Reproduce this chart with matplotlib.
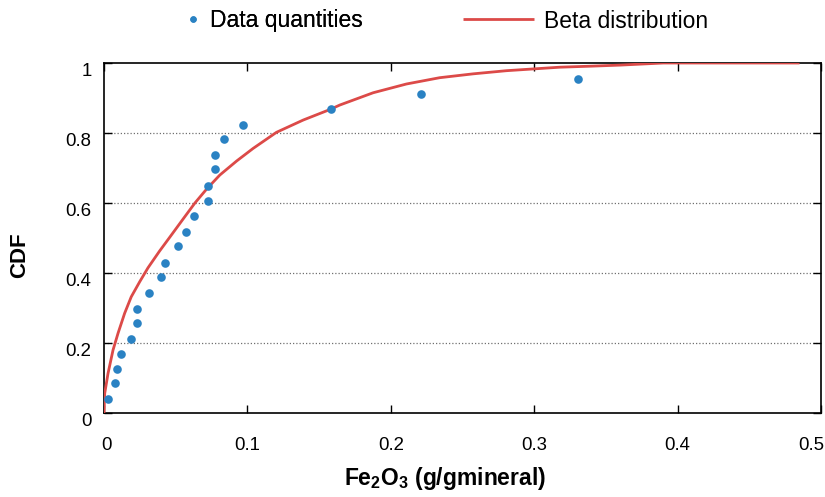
import matplotlib
matplotlib.use("Agg")
import matplotlib.pyplot as plt
from matplotlib.transforms import ScaledTranslation

plt.rcParams['font.family'] = ['Liberation Sans', 'DejaVu Sans']

# Data quantities (empirical CDF points)
data_x = [0.003, 0.0077, 0.0093, 0.0116, 0.019, 0.0228, 0.0228, 0.0314, 0.0397,
          0.0427, 0.0514, 0.0574, 0.0625, 0.0722, 0.0722, 0.0774, 0.0774, 0.0834,
          0.0969, 0.158, 0.2214, 0.3305]
data_y = [0.039, 0.085, 0.126, 0.17, 0.212, 0.258, 0.298, 0.344, 0.39,
          0.43, 0.477, 0.518, 0.564, 0.605, 0.65, 0.696, 0.736, 0.782,
          0.824, 0.869, 0.911, 0.955]

# Fitted Beta distribution CDF
beta_x = [0.0, 0.0005, 0.0028, 0.0063, 0.0098, 0.0144, 0.019, 0.0249, 0.0307,
          0.0388, 0.046, 0.0553, 0.0634, 0.0716, 0.0808, 0.0925, 0.104, 0.1203,
          0.1389, 0.1575, 0.1645, 0.1877, 0.2109, 0.2341, 0.2574, 0.2806, 0.2992,
          0.3178, 0.34, 0.36, 0.39, 0.485]
beta_y = [0.0, 0.056, 0.113, 0.18, 0.228, 0.285, 0.332, 0.375, 0.415,
          0.463, 0.503, 0.555, 0.6, 0.64, 0.68, 0.72, 0.756, 0.802,
          0.837, 0.867, 0.88, 0.915, 0.94, 0.958, 0.969, 0.978, 0.983,
          0.988, 0.991, 0.994, 1.0, 1.0]

x_ticks = [0, 0.1, 0.2, 0.3, 0.4, 0.5]
x_ticklabels = ['0', '0.1', '0.2', '0.3', '0.4', '0.5']
y_ticks = [0, 0.2, 0.4, 0.6, 0.8, 1]
y_ticklabels = ['0', '0.2', '0.4', '0.6', '0.8', '1']

fig = plt.figure(figsize=(8.25, 4.97), dpi=100)
ax = fig.add_axes([104/825, 1-413/497, (821-104)/825, (413-63)/497])

line, = ax.plot(beta_x, beta_y, color='#dc4a48', lw=2.0, zorder=3,
                solid_joinstyle='round', solid_capstyle='butt')
pts, = ax.plot(data_x, data_y, 'o', color='#2a82c3', ms=6.2, mec='none', zorder=4)

ax.set_xlim(0, 0.5)
ax.set_ylim(0, 1)
ax.set_xticks(x_ticks)
ax.set_xticklabels(x_ticklabels)
ax.set_yticks(y_ticks)
ax.set_yticklabels(y_ticklabels)

for y in [0.2, 0.4, 0.6, 0.8]:
    ax.axhline(y, color='#707070', lw=0.9, ls=(0, (1, 1.6)), zorder=1)

for sp in ax.spines.values():
    sp.set_color('black')
    sp.set_linewidth(1.2)
    sp.set_zorder(2)

ax.tick_params(axis='both', direction='in', length=6, width=1.0, color='black',
               labelsize=13.4, top=True, right=True)
ax.tick_params(axis='x', pad=17)
ax.tick_params(axis='y', pad=9)

for lab in ax.get_yticklabels():
    lab.set_transform(lab.get_transform() + ScaledTranslation(0, -7/100, fig.dpi_scale_trans))
xlabs = ax.get_xticklabels()
xlabs[0].set_transform(xlabs[0].get_transform() + ScaledTranslation(3/100, 0, fig.dpi_scale_trans))
xlabs[-1].set_transform(xlabs[-1].get_transform() + ScaledTranslation(-10/100, 0, fig.dpi_scale_trans))

ax.set_xlabel('Fe$_\\mathregular{2}$O$_\\mathregular{3}$ (g/gmineral)', fontsize=16.5,
              fontweight='bold')
ax.xaxis.set_label_coords((445-104)/717, -0.148)
ax.set_ylabel('CDF', fontsize=16, fontweight='bold')
ax.yaxis.set_label_coords((30-104)/717, (413-255)/350)

leg1 = fig.legend([pts], ['Data quantities'], loc='center left',
                  bbox_to_anchor=(182/825, 1-21/497), frameon=False, fontsize=16.5,
                  handlelength=1.0, handletextpad=0.22, borderpad=0,
                  borderaxespad=0, markerscale=0.75)
leg2 = fig.legend([line], ['Beta distribution'], loc='center left',
                  bbox_to_anchor=(463/825, 1-21/497), frameon=False, fontsize=16.5,
                  handlelength=3.1, handletextpad=0.43, borderpad=0,
                  borderaxespad=0)
fig.add_artist(leg1)

fig.savefig('out.png', dpi=100)
